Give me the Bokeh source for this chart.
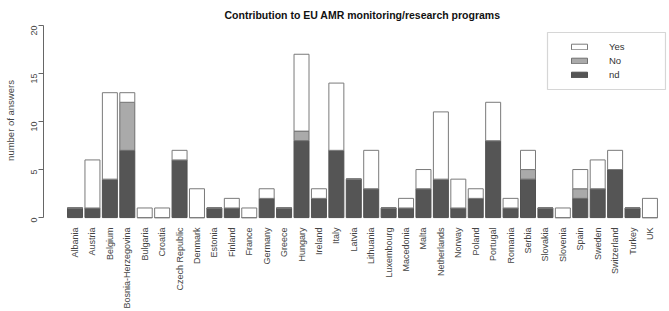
import math
from bokeh.plotting import figure
from bokeh.models import Range1d, FixedTicker, Legend, LegendItem, BoxAnnotation, Title
from bokeh.embed import file_html
from bokeh.resources import INLINE

countries = ["Albania", "Austria", "Belgium", "Bosnia-Herzegovina", "Bulgaria", "Croatia",
             "Czech Republic", "Denmark", "Estonia", "Finland", "France", "Germany", "Greece",
             "Hungary", "Ireland", "Italy", "Latvia", "Lithuania", "Luxembourg", "Macedonia",
             "Malta", "Netherlands", "Norway", "Poland", "Portugal", "Romania", "Serbia",
             "Slovakia", "Slovenia", "Spain", "Sweden", "Switzerland", "Turkey", "UK"]
nd  = [1, 1, 4, 7, 0, 0, 6, 0, 1, 1, 0, 2, 1, 8, 2, 7, 4, 3, 1, 1, 3, 4, 1, 2, 8, 1, 4, 1, 0, 2, 3, 5, 1, 0]
no  = [0, 0, 0, 5, 0, 0, 0, 0, 0, 0, 0, 0, 0, 1, 0, 0, 0, 0, 0, 0, 0, 0, 0, 0, 0, 0, 1, 0, 0, 1, 0, 0, 0, 0]
yes = [0, 5, 9, 1, 1, 1, 1, 3, 0, 1, 1, 1, 0, 8, 1, 7, 0, 4, 0, 1, 2, 7, 3, 1, 4, 1, 2, 0, 1, 2, 3, 2, 0, 2]
y_ticks = [0, 5, 10, 15, 20]

xs = list(range(len(countries)))
data = dict(x=xs, nd=nd, no=no, yes=yes)

FONT = "Liberation Sans"

p = figure(width=669, height=311, output_backend="svg", toolbar_location=None,
           x_range=Range1d(-1.81, 33.95), y_range=Range1d(-0.2, 20.41),
           min_border_left=43, min_border_right=3, min_border_top=21, min_border_bottom=89)
p.outline_line_color = None
p.xgrid.visible = False
p.ygrid.visible = False
p.background_fill_color = "white"
p.border_fill_color = "white"

r = p.vbar_stack(["nd", "no", "yes"], x="x", width=0.86, source=data,
                 fill_color=["#555555", "#aaaaaa", "#ffffff"],
                 line_color=["#505050", "#707070", "#7a7a7a"], line_width=1)

t = Title(text="Contribution to EU AMR monitoring/research programs", align="left",
          vertical_align="middle", text_line_height=1.9,
          text_font=FONT, text_font_size="10.5px", text_font_style="bold",
          text_color="#111111", offset=181, standoff=0)
p.add_layout(t, "above")

# y axis
p.yaxis.bounds = (0, 20)
p.yaxis.ticker = FixedTicker(ticks=y_ticks)
p.yaxis.major_label_orientation = math.pi / 2
p.yaxis.major_label_text_font = FONT
p.yaxis.major_label_text_font_size = "9px"
p.yaxis.major_label_text_color = "#444444"
p.yaxis.major_label_standoff = 4
p.yaxis.axis_line_color = "#666666"
p.yaxis.major_tick_line_color = "#666666"
p.yaxis.major_tick_out = 5
p.yaxis.major_tick_in = 0
p.yaxis.minor_tick_line_color = None
p.yaxis.axis_label = "number of answers"
p.yaxis.axis_label_text_font = FONT
p.yaxis.axis_label_text_font_size = "9.5px"
p.yaxis.axis_label_text_font_style = "normal"
p.yaxis.axis_label_text_color = "#444444"
p.yaxis.axis_label_standoff = 10

# x axis
p.xaxis.ticker = FixedTicker(ticks=xs)
p.xaxis.major_label_overrides = {i: c for i, c in enumerate(countries)}
p.xaxis.major_label_orientation = math.pi / 2
p.xaxis.major_label_text_font = FONT
p.xaxis.major_label_text_font_size = "9px"
p.xaxis.major_label_text_color = "#444444"
p.xaxis.major_label_standoff = 2
p.xaxis.axis_line_color = None
p.xaxis.major_tick_line_color = None
p.xaxis.minor_tick_line_color = None

legend = Legend(items=[LegendItem(label="Yes", renderers=[r[2]]),
                       LegendItem(label="No", renderers=[r[1]]),
                       LegendItem(label="nd", renderers=[r[0]])],
                location=(526, 138), padding=0, spacing=0, margin=0,
                glyph_width=20, glyph_height=7, label_height=14, label_standoff=20,
                label_text_font=FONT, label_text_font_size="9.5px", label_text_color="#333333",
                border_line_color=None, background_fill_alpha=0)
p.add_layout(legend, "center")

box = BoxAnnotation(left=547, right=665, top=32, bottom=89,
                    left_units="canvas", right_units="canvas", top_units="canvas", bottom_units="canvas",
                    fill_alpha=0, line_color="#777777", line_width=1.2)
p.add_layout(box)

open("out.html", "w").write(file_html(p, INLINE))
